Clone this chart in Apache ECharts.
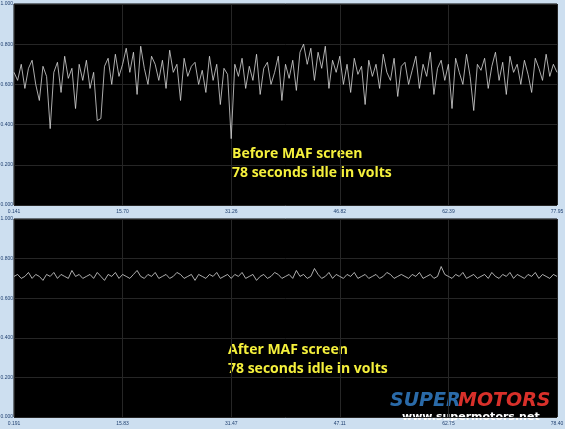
<!DOCTYPE html>
<html>
<head>
<meta charset="utf-8">
<script src="https://cdn.jsdelivr.net/npm/echarts@6/dist/echarts.min.js"></script>
<style>
  html, body { margin: 0; padding: 0; background: #cddff0; }
  #chart { width: 565px; height: 429px; }
</style>
</head>
<body>
<div id="chart"></div>
<script>
// MAF voltage traces, 151 samples each
const beforeVolts = [
  .66,.62,.70,.58,.68,.72,.60,.52,.69,.64,
  .38,.66,.71,.56,.74,.63,.68,.48,.70,.62,
  .72,.58,.66,.42,.43,.69,.73,.60,.75,.64,
  .70,.78,.66,.76,.55,.79,.68,.60,.74,.70,
  .62,.72,.58,.77,.66,.70,.52,.73,.64,.69,
  .71,.60,.67,.56,.74,.62,.70,.50,.68,.65,
  .33,.70,.64,.73,.58,.69,.62,.75,.55,.68,
  .71,.60,.66,.74,.52,.70,.63,.72,.57,.76,
  .80,.70,.78,.62,.76,.68,.79,.58,.72,.66,
  .74,.60,.70,.56,.73,.65,.69,.50,.72,.64,
  .70,.58,.75,.66,.62,.73,.54,.69,.71,.60,
  .67,.74,.58,.70,.64,.76,.55,.68,.72,.62,
  .70,.48,.73,.66,.60,.75,.64,.47,.70,.67,
  .73,.58,.69,.76,.62,.71,.55,.74,.66,.70,
  .60,.72,.65,.56,.73,.68,.62,.75,.64,.70,.66
];
const afterVolts = [
  .71,.72,.70,.71,.73,.70,.72,.71,.69,.72,
  .71,.73,.70,.72,.71,.70,.74,.71,.72,.70,
  .71,.72,.70,.73,.71,.69,.72,.71,.73,.70,
  .72,.71,.70,.72,.74,.71,.70,.72,.71,.73,
  .70,.71,.72,.70,.71,.73,.72,.70,.71,.72,
  .69,.72,.71,.70,.72,.71,.73,.70,.71,.72,
  .70,.72,.71,.73,.70,.71,.72,.69,.71,.72,
  .70,.71,.73,.72,.70,.71,.72,.70,.74,.71,
  .72,.70,.71,.75,.72,.70,.71,.73,.70,.72,
  .71,.70,.72,.71,.73,.70,.71,.72,.70,.71,
  .72,.70,.71,.73,.72,.70,.71,.72,.71,.70,
  .72,.71,.73,.70,.71,.72,.70,.71,.76,.72,
  .71,.70,.72,.71,.73,.70,.71,.72,.70,.71,
  .72,.70,.73,.71,.70,.72,.71,.73,.70,.72,
  .71,.70,.72,.71,.73,.70,.72,.71,.70,.72,.71
];
const beforeTicks = ['0.141', '15.70', '31.26', '46.82', '62.39', '77.95'];
const afterTicks = ['0.191', '15.83', '31.47', '47.11', '62.75', '78.40'];
const tickStep = 30;

function categories(ticks, n) {
  const out = [];
  for (let i = 0; i < n; i++) out.push(i % tickStep === 0 ? ticks[i / tickStep] : '');
  return out;
}

const chart = echarts.init(document.getElementById('chart'));
const axisText = { color: '#1f3f6f', fontSize: 5, fontFamily: 'Liberation Sans' };
const gridLine = { show: true, lineStyle: { color: '#262626', width: 1 } };

function xAxis(idx, ticks, n) {
  return {
    type: 'category', gridIndex: idx, data: categories(ticks, n), boundaryGap: false,
    axisLine: { show: false }, axisTick: { show: false },
    axisLabel: { ...axisText, interval: (i) => i % tickStep === 0, showMaxLabel: true, margin: 4 },
    splitLine: { ...gridLine, interval: (i) => i % tickStep === 0 }
  };
}
function yAxis(idx) {
  return {
    type: 'value', gridIndex: idx, min: 0, max: 1, interval: 0.2,
    axisLine: { show: false }, axisTick: { show: false },
    axisLabel: { ...axisText, margin: 1, formatter: (v) => v.toFixed(3) },
    splitLine: gridLine
  };
}

chart.setOption({
  backgroundColor: '#cddff0',
  animation: false,
  grid: [
    { left: 14, right: 8, top: 4, height: 201, show: true, backgroundColor: '#000', borderColor: '#000',
      outerBoundsMode: 'none', containLabel: false },
    { left: 14, right: 8, top: 219, height: 198, show: true, backgroundColor: '#000', borderColor: '#000',
      outerBoundsMode: 'none', containLabel: false }
  ],
  xAxis: [xAxis(0, beforeTicks, beforeVolts.length), xAxis(1, afterTicks, afterVolts.length)],
  yAxis: [yAxis(0), yAxis(1)],
  series: [
    { type: 'line', xAxisIndex: 0, yAxisIndex: 0, data: beforeVolts, symbol: 'none',
      lineStyle: { color: '#d8d8d8', width: 0.8 } },
    { type: 'line', xAxisIndex: 1, yAxisIndex: 1, data: afterVolts, symbol: 'none',
      lineStyle: { color: '#d8d8d8', width: 0.8 } }
  ],
  graphic: [
    { type: 'text', left: 232, top: 145, style: { text: 'Before MAF screen\n78 seconds idle in volts',
      fill: '#f5f03c', font: 'bold 14px "Open Sans"', lineHeight: 19 } },
    { type: 'text', left: 228, top: 341, style: { text: 'After MAF screen\n78 seconds idle in volts',
      fill: '#f5f03c', font: 'bold 14px "Open Sans"', lineHeight: 19 } },
    { type: 'text', left: 390, top: 392, style: { text: 'SUPER', fill: '#2a6aa8',
      font: 'italic bold 19px "DejaVu Sans"' } },
    { type: 'text', left: 458, top: 392, style: { text: 'MOTORS', fill: '#d8302a',
      font: 'italic bold 19px "DejaVu Sans"' } },
    { type: 'text', left: 402, top: 412, style: { text: 'www.supermotors.net', fill: '#ffffff',
      font: 'bold 11px "DejaVu Sans"' } }
  ]
});
window.addEventListener('resize', () => chart.resize());
</script>
</body>
</html>
